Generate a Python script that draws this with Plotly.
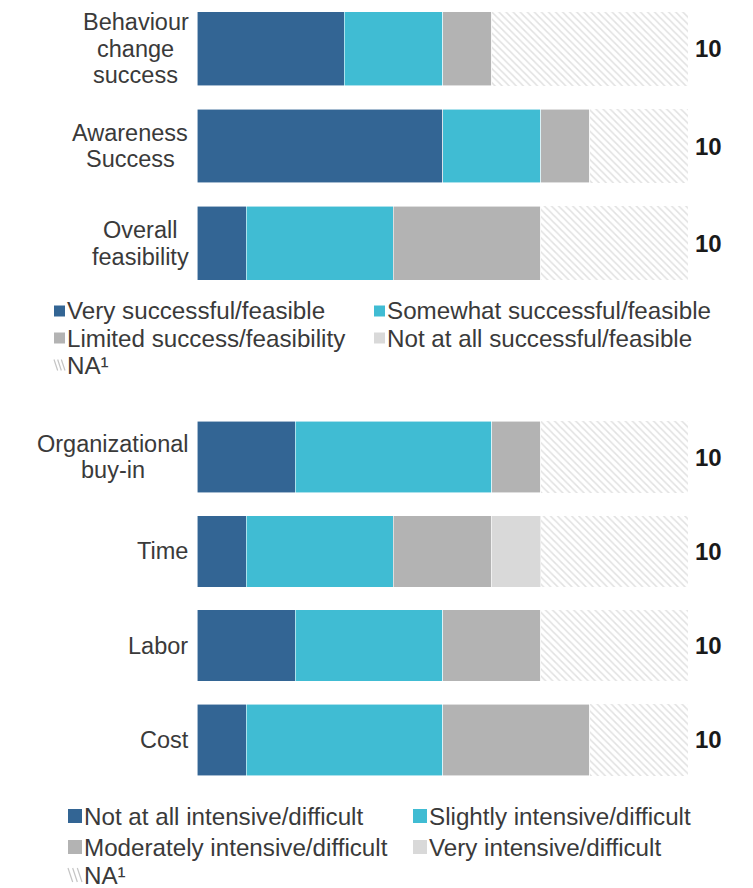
import plotly.graph_objects as go

W, H = 753, 888

# ---- Panel 1: success / feasibility ratings (respondent counts) ----
top_categories = ["Behaviour change success", "Awareness Success", "Overall feasibility"]
top_labels = ["Behaviour<br>change<br>success", "Awareness<br>Success", "Overall<br>feasibility"]
top_series = ["Very successful/feasible", "Somewhat successful/feasible",
              "Limited success/feasibility", "Not at all successful/feasible", "NA¹"]
top_very = [3, 5, 1]
top_somewhat = [2, 2, 3]
top_limited = [1, 1, 3]
top_not_at_all = [0, 0, 0]
top_na = [4, 2, 3]

# ---- Panel 2: resource intensity / difficulty (respondent counts) ----
bottom_categories = ["Organizational buy-in", "Time", "Labor", "Cost"]
bottom_labels = ["Organizational<br>buy-in", "Time", "Labor", "Cost"]
bottom_series = ["Not at all intensive/difficult", "Slightly intensive/difficult",
                 "Moderately intensive/difficult", "Very intensive/difficult", "NA¹"]
bottom_not_at_all = [2, 1, 2, 1]
bottom_slightly = [4, 3, 3, 4]
bottom_moderately = [1, 2, 2, 3]
bottom_very = [0, 1, 0, 0]
bottom_na = [3, 3, 3, 2]

COLORS = ["#336594", "#40BCD3", "#B3B3B3", "#D9D9D9"]
HATCH = "#C4C4C4"
FONT = "Liberation Sans, Arial, sans-serif"
TEXT = "#3a3a3a"

# Advance widths (1/1000 em) of Liberation Sans / Arial, used to centre
# the lines of multi-line category labels against a common right edge.
ADVANCE = {
    "a": 556, "b": 556, "c": 500, "d": 556, "e": 556, "f": 278, "g": 556, "h": 556,
    "i": 222, "j": 222, "k": 500, "l": 222, "m": 833, "n": 556, "o": 556, "p": 556,
    "r": 333, "s": 500, "t": 278, "u": 556, "v": 500, "w": 722, "y": 500, "z": 500,
    "-": 333, " ": 278, "A": 667, "B": 667, "C": 722, "L": 556, "O": 778, "S": 667,
    "T": 611,
}


def text_width(s, size):
    return sum(ADVANCE.get(ch, 556) for ch in s) * size / 1000


def px_x(p):
    return p / W


def px_y(p):
    return 1 - p / H


fig = go.Figure()


def add_panel(categories, series, values, xa, ya):
    for i, (name, vals) in enumerate(zip(series, values)):
        if i < 4:
            marker = dict(color=COLORS[i], line=dict(color="rgba(255,255,255,0.7)", width=0.8))
        else:
            marker = dict(color="white",
                          pattern=dict(shape="\\", fgcolor=HATCH, bgcolor="white",
                                       size=5, solidity=0.3),
                          line=dict(width=0))
        fig.add_trace(go.Bar(y=categories, x=vals, name=name, orientation="h",
                             marker=marker, xaxis=xa, yaxis=ya, showlegend=False,
                             hoverinfo="x+name"))


top_values = [top_very, top_somewhat, top_limited, top_not_at_all, top_na]
bottom_values = [bottom_not_at_all, bottom_slightly, bottom_moderately, bottom_very, bottom_na]
add_panel(top_categories, top_series, top_values, "x", "y")
add_panel(bottom_categories, bottom_series, bottom_values, "x2", "y2")

annotations = []
LABEL_SIZE = 23.5
LINE_GAP = 26.5
LABEL_RIGHT = 188.5


def add_labels(categories, labels, values, yref):
    for cat, lab in zip(categories, labels):
        lines = lab.split("<br>")
        n = len(lines)
        centre = LABEL_RIGHT - max(text_width(ln, LABEL_SIZE) for ln in lines) / 2
        for i, ln in enumerate(lines):
            annotations.append(dict(
                text=ln, xref="paper", yref=yref, x=px_x(centre), y=cat,
                xanchor="center", yanchor="middle", showarrow=False,
                yshift=-(i - (n - 1) / 2) * LINE_GAP,
                font=dict(family=FONT, size=LABEL_SIZE, color=TEXT)))
        total = sum(v[categories.index(cat)] for v in values)
        annotations.append(dict(
            text=f"<b>{total}</b>", xref="paper", yref=yref, x=px_x(708), y=cat,
            xanchor="center", yanchor="middle", showarrow=False,
            font=dict(family=FONT, size=24, color="#1a1a1a")))


add_labels(top_categories, top_labels, top_values, "y")
add_labels(bottom_categories, bottom_labels, bottom_values, "y2")

shapes = []


def add_legend(series, col_x, row_y, box, text_gap, font_size):
    for k, name in enumerate(series):
        row, col = divmod(k, 2)
        x0 = col_x[col]
        yc = row_y[row]
        if k < 4:
            shapes.append(dict(type="rect", xref="paper", yref="paper",
                               x0=px_x(x0), x1=px_x(x0 + box),
                               y0=px_y(yc - box / 2), y1=px_y(yc + box / 2),
                               fillcolor=COLORS[k], line=dict(width=0)))
        else:
            # small hatch swatch
            for off in (0, box / 3, 2 * box / 3):
                shapes.append(dict(type="line", xref="paper", yref="paper",
                                   x0=px_x(x0 + off), y0=px_y(yc - box / 2),
                                   x1=px_x(x0 + off + box / 3), y1=px_y(yc + box / 2),
                                   line=dict(color=HATCH, width=1.2)))
        annotations.append(dict(
            text=name, xref="paper", yref="paper", x=px_x(x0 + box + text_gap), y=px_y(yc),
            xanchor="left", yanchor="middle", showarrow=False,
            font=dict(family=FONT, size=font_size, color=TEXT)))


add_legend(top_series, [54, 374], [311, 338, 365], 11, 0, 24.2)
add_legend(bottom_series, [68, 413], [816, 847, 875], 14, 0, 24.2)

axis_common = dict(showgrid=False, zeroline=False, showticklabels=False, ticks="",
                   showline=False)

fig.update_layout(
    width=W, height=H, autosize=False,
    margin=dict(l=0, r=0, t=0, b=0),
    paper_bgcolor="white", plot_bgcolor="white",
    barmode="stack", bargap=0.24,
    showlegend=False,
    xaxis=dict(domain=[px_x(197), px_x(688)], range=[0, 10], anchor="y", **axis_common),
    xaxis2=dict(domain=[px_x(197), px_x(688)], range=[0, 10], anchor="y2", **axis_common),
    yaxis=dict(domain=[px_y(292), 1], range=[2.5, -0.5], type="category",
               categoryorder="array", categoryarray=top_categories, anchor="x",
               **axis_common),
    yaxis2=dict(domain=[px_y(787), px_y(410)], range=[3.5, -0.5], type="category",
                categoryorder="array", categoryarray=bottom_categories, anchor="x2",
                **axis_common),
    annotations=annotations,
    shapes=shapes,
    font=dict(family=FONT),
)

fig.write_html("out.html")
